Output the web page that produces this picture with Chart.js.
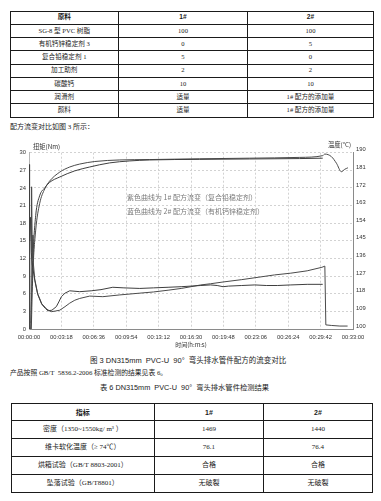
<!DOCTYPE html>
<html><head><meta charset="utf-8">
<script src="https://cdn.jsdelivr.net/npm/chart.js@4"></script>
<style>
html,body{margin:0;padding:0;background:#fff;width:381px;height:501px;overflow:hidden;position:relative;font-family:"Liberation Serif","Noto Sans CJK SC",serif;color:#1a1a1a}
.abs{position:absolute;white-space:nowrap;line-height:1}
table{position:absolute;border-collapse:collapse;table-layout:fixed}
td{border:1px solid #1a1a1a;text-align:center;padding:0;line-height:1;white-space:nowrap}
#t1 td{font-size:6.6px}
#t2 td{font-size:7px}
.hd{font-family:"Liberation Sans","Noto Sans CJK SC",sans-serif;font-weight:bold}
.note{position:absolute;white-space:nowrap;font-family:"Noto Sans CJK SC",sans-serif;font-size:7px;color:#7a7a7a;line-height:10px}
.cap{font-family:"Liberation Sans","Noto Sans CJK SC",sans-serif;font-size:7.5px}
</style></head>
<body>
<table id="t1" style="left:9.5px;top:10.5px;width:363.5px">
<colgroup><col style="width:108.5px"><col style="width:129px"><col style="width:126px"></colgroup>
<tr style="height:13.25px"><td class="hd">原料</td><td class="hd">1#</td><td class="hd">2#</td></tr>
<tr style="height:13.25px"><td>SG-8 型 PVC 树脂</td><td>100</td><td>100</td></tr>
<tr style="height:13.25px"><td>有机钙锌稳定剂 3</td><td>0</td><td>5</td></tr>
<tr style="height:13.25px"><td>复合铅稳定剂 1</td><td>5</td><td>0</td></tr>
<tr style="height:13.25px"><td>加工助剂</td><td>2</td><td>2</td></tr>
<tr style="height:13.25px"><td>碳酸钙</td><td>10</td><td>10</td></tr>
<tr style="height:13.25px"><td>润滑剂</td><td>适量</td><td>1# 配方的添加量</td></tr>
<tr style="height:13.25px"><td>颜料</td><td>适量</td><td>1# 配方的添加量</td></tr>
</table>
<div class="abs" style="left:10px;top:123.5px;font-size:7px">配方流变对比如图 3 所示：</div>

<div style="position:absolute;left:0;top:138px;width:381px;height:217px"><canvas id="c" width="381" height="217"></canvas></div>
<div class="abs" style="left:33px;top:143.5px;font-size:6.3px;font-family:'Noto Sans CJK SC',sans-serif;color:#333">扭矩(Nm)</div>
<div class="abs" style="left:328px;top:141.5px;font-size:6.3px;font-family:'Noto Sans CJK SC',sans-serif;color:#333">温度(°C)</div>
<div class="note" style="left:127px;top:192px">紫色曲线为 1# 配方流变（复合铅稳定剂）</div>
<div class="note" style="left:127px;top:206px">蓝色曲线为 2# 配方流变（有机钙锌稳定剂）</div>

<div class="abs cap" style="left:90px;top:356.5px">图 3 DN315mm&nbsp; PVC-U&nbsp; 90°&nbsp; 弯头排水管件配方的流变对比</div>
<div class="abs" style="left:10px;top:369.5px;font-size:6.8px">产品按照 GB/T&nbsp; 5836.2-2006 标准检测的结果见表 6。</div>
<div class="abs cap" style="left:100px;top:384px;font-size:7.3px">表 6 DN315mm&nbsp; PVC-U&nbsp; 90°&nbsp; 弯头排水管件检测结果</div>

<table id="t2" style="left:10.7px;top:402.7px;width:361.3px">
<colgroup><col style="width:143.3px"><col style="width:109px"><col style="width:109px"></colgroup>
<tr style="height:17.8px"><td class="hd">指标</td><td class="hd">1#</td><td class="hd">2#</td></tr>
<tr style="height:17.8px"><td>密度（1350~1550kg/ m³ ）</td><td>1469</td><td>1440</td></tr>
<tr style="height:17.8px"><td>维卡软化温度（≥ 74℃）</td><td>76.1</td><td>76.4</td></tr>
<tr style="height:17.8px"><td>烘箱试验（GB/T 8803-2001）</td><td>合格</td><td>合格</td></tr>
<tr style="height:17.8px"><td>坠落试验（GB/T8801）</td><td>无破裂</td><td>无破裂</td></tr>
</table>

<script>
// ---- data (time in seconds) ----
const xTickLabels = ['00:00:00','00:03:18','00:06:36','00:09:54','00:13:12','00:16:30','00:19:48','00:23:06','00:26:24','00:29:42','00:33:00'];
const torqueTicks = [0,3,6,9,12,15,18,21,24,27,30];
const tempTicks = [100,109,118,127,136,145,154,163,172,181,190];

const torque1Time  = [0,2,5,9,14,20,35,53,78,100,116,140,167,182,198,220,249,310,380,440,512,580,677,760,850,930,990,1050,1110,1150,1186,1220,1300,1380,1450,1520,1600,1700,1795];
const torque1Value = [0,28,15,19,13,11,8.3,5.9,4.2,3.5,3.1,3.2,3.8,4.6,5.5,6.1,6.5,6.35,6.5,6.7,7.1,7.0,6.9,7.0,7.1,7.2,7.3,7.4,7.5,7.4,7.2,7.3,7.4,7.5,7.4,7.4,7.5,7.6,7.6];

const torque2Time  = [12,16,19,24,35,53,78,108,130,138,160,188,220,249,280,310,371,451,555,677,760,850,930,990,1050,1110,1186,1300,1400,1500,1600,1700,1790,1808,1814,1850,1900,1947];
const torque2Value = [1,24.2,16,12,8.5,6.0,4.3,3.4,3.0,2.95,3.05,3.2,3.8,4.4,4.9,5.2,5.6,5.5,5.8,6.1,6.3,6.6,6.9,7.2,7.5,7.7,8.0,8.4,8.8,9.2,9.5,9.9,10.5,10.7,0.7,0.6,0.5,0.5];

const temp1Time  = [10,23,41,65,96,125,188,279,371,493,616,738,1043,1349,1654,1795];
const temp1Value = [100,135,158,168,172,174.8,177.6,180.7,182.7,184.8,185.8,186.3,186.6,186.8,187.0,187.2];

const temp2Time  = [14,23,41,65,96,126,188,249,310,402,555,738,1043,1349,1654,1795,1808,1848,1879,1909,1929,1949];
const temp2Value = [100,127.6,150.5,164,171.5,175.5,180.1,182.7,184.2,185.5,186.3,186.5,186.9,187.2,187.6,188.5,189.3,188.0,184.6,180.3,181.5,182.3];

const pts = (t, v) => t.map((x, i) => ({x, y: v[i]}));
const tickFont = {family: "'Liberation Sans', sans-serif", size: 5.8};

new Chart(document.getElementById('c'), {
  type: 'line',
  data: {datasets: [
    {label: '1# 扭矩', data: pts(torque1Time, torque1Value), yAxisID: 'y', borderColor: '#3f3f3f', borderWidth: 1, pointRadius: 0, tension: 0},
    {label: '2# 扭矩', data: pts(torque2Time, torque2Value), yAxisID: 'y', borderColor: '#4a4a4a', borderWidth: 1, pointRadius: 0, tension: 0},
    {label: '1# 温度', data: pts(temp1Time, temp1Value), yAxisID: 'y2', borderColor: '#3f3f3f', borderWidth: 1, pointRadius: 0, cubicInterpolationMode: 'monotone'},
    {label: '2# 温度', data: pts(temp2Time, temp2Value), yAxisID: 'y2', borderColor: '#4a4a4a', borderWidth: 1, pointRadius: 0, cubicInterpolationMode: 'monotone'}
  ]},
  options: {
    responsive: false, animation: false,
    layout: {padding: {top: 14.7, left: 0, right: 0, bottom: 0}},
    plugins: {legend: {display: false}, tooltip: {enabled: false}},
    scales: {
      x: {type: 'linear', min: 0, max: 1980,
        ticks: {stepSize: 198, autoSkip: false, maxRotation: 0, font: tickFont, color: '#333', padding: 4.5,
          callback: (v, i) => xTickLabels[i]},
        grid: {color: '#d2d2d2', drawTicks: false},
        border: {color: '#8a8a8a', dash: [2, 2]},
        title: {display: true, text: '时间(h:m:s)', color: '#333', font: {family: "'Noto Sans CJK SC', sans-serif", size: 6}, padding: {top: 0, bottom: 6.4}},
        afterFit: s => { s.height = 26; }
      },
      y: {position: 'left', min: 0, max: 30,
        ticks: {stepSize: 3, font: tickFont, color: '#333', padding: 3, callback: (v, i) => torqueTicks[i]},
        grid: {color: '#d2d2d2', drawTicks: false},
        border: {color: '#b5b5b5', dash: [2, 2]},
        afterFit: s => { s.width = 29; }
      },
      y2: {position: 'right', min: 100, max: 190,
        ticks: {stepSize: 9, font: tickFont, color: '#333', padding: 3, labelOffset: -3, callback: (v, i) => tempTicks[i]},
        grid: {display: false, drawTicks: false},
        border: {color: '#8a8a8a'},
        afterFit: s => { s.width = 28; }
      }
    }
  }
});
</script>
</body></html>
